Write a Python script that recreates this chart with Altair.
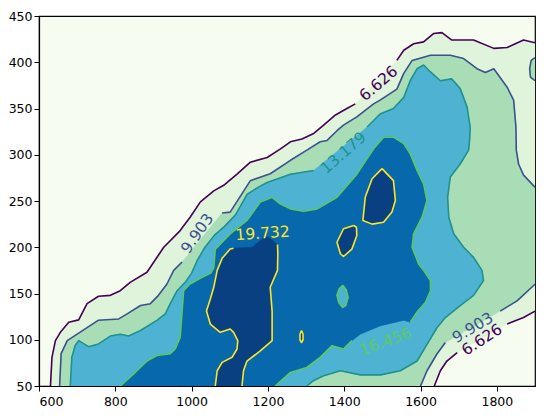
import altair as alt
import pandas as pd

# ---------------- data (data units) ----------------
levels = ["6.626", "9.903", "13.179", "16.456", "19.732"]
line_colors = ["#440154", "#3b528b", "#21918c", "#5ec962", "#fde725"]
band_colors = ["#f7fcf0", "#e0f3db", "#a8ddb5", "#4eb3d3", "#0868ac", "#084081"]

x_ticks = [600, 800, 1000, 1200, 1400, 1600, 1800]
y_ticks = [50, 100, 150, 200, 250, 300, 350, 400, 450]
x_domain = [600, 1900]
y_domain = [50, 450]

# 6.626 contour
c6_up_a_x = [630, 634, 643, 656, 678, 704, 726, 756, 787, 813, 839, 883, 927, 970, 997, 1023, 1058, 1084, 1119, 1154, 1198, 1232, 1259, 1289, 1320, 1346, 1377, 1407, 1429]
c6_up_a_y = [50, 81, 99, 108, 119, 121.5, 139, 147, 148, 153, 162, 173, 200, 218, 233, 249, 261, 267, 279, 292, 297, 306, 314, 317, 323, 332, 343, 350, 355]
c6_up_b_x = [1538, 1556, 1582, 1608, 1634, 1656, 1682, 1739, 1792, 1827, 1870, 1900]
c6_up_b_y = [402, 413, 420, 422, 431, 432, 424, 424, 415, 416, 424, 421]
c6_lo_a_x = [1636, 1652, 1669, 1696]
c6_lo_a_y = [50, 66.5, 77, 86]
c6_lo_b_x = [1827, 1870, 1900]
c6_lo_b_y = [117, 124, 131]

# 9.903 contour
c9_up_a_x = [654, 658, 674, 707, 733, 755, 809, 831, 866, 892, 913, 935, 953, 975]
c9_up_a_y = [50, 85, 99, 108, 115, 121, 122.5, 128, 137, 139, 148, 160, 175, 184]
c9_up_b_x = [1080, 1101, 1154, 1206, 1259, 1302, 1337, 1355, 1381, 1398, 1433, 1477, 1494, 1538, 1556, 1578, 1626, 1678, 1713, 1748, 1770, 1792, 1827, 1844, 1850, 1851, 1857, 1870, 1900]
c9_up_b_y = [237, 238, 272, 279.5, 294, 305, 314, 315.5, 326, 332, 341, 355, 359, 371, 388, 402, 407.5, 407.5, 404, 393, 389, 393, 373, 359, 330, 305, 290, 278, 265]
c9_lo_a_x = [1600, 1617, 1643, 1665]
c9_lo_a_y = [50, 66.5, 84.6, 97]
c9_lo_b_x = [1809, 1853, 1900]
c9_lo_b_y = [131, 142, 160]
c9_sm_x = [1900, 1890, 1886, 1888, 1900]
c9_sm_y = [405, 402, 393, 384, 380]

# 13.179 contour
c13_a_x = [682, 686, 695, 704, 730, 756, 787, 813, 835, 866, 909, 931, 944, 962, 985, 1000, 1015, 1035, 1060, 1085, 1115, 1145, 1175, 1198, 1259, 1320]
c13_a_y = [50, 81, 94, 99, 92.5, 95.5, 104, 106, 104, 110, 121, 128, 139, 153, 163, 172, 186, 200, 213, 222, 235, 257, 265, 270, 279, 283]
c13_b_x = [1460, 1494, 1529, 1556, 1573, 1591, 1608, 1626, 1652, 1682, 1704, 1722, 1730, 1729, 1726, 1704, 1678, 1671, 1674, 1687, 1713, 1739, 1761, 1765, 1739, 1704, 1665, 1643, 1617, 1591, 1547, 1495, 1442, 1390, 1346, 1320, 1302]
c13_b_y = [330, 344, 350, 362, 380, 393, 397, 389.5, 380, 382, 371.5, 351.5, 330, 318, 305, 290, 276, 254, 232.5, 214.5, 200, 189, 175, 164, 148, 137, 124, 113, 95, 77, 66.5, 62, 62, 66.5, 61, 56, 50]

# 16.456 contour
c16_a_x = [813, 848, 883, 909, 944, 957, 970, 975, 979, 995, 1020, 1050, 1058, 1062, 1101, 1145, 1180, 1211, 1232, 1259, 1294, 1329, 1381, 1433, 1477, 1503, 1529, 1556, 1573, 1591, 1608, 1617, 1604, 1582, 1578, 1595, 1608, 1626, 1626, 1613, 1591, 1573]
c16_a_y = [50, 63, 77, 83, 85, 90, 102.6, 131, 153, 160, 166, 172, 178, 198, 214.5, 229, 249, 254, 247, 241.5, 239, 241.5, 254, 279, 306.5, 319, 319, 312, 301, 283, 268.6, 250.5, 232.5, 214.5, 200, 182, 175, 164, 153, 140.5, 130, 119]
c16_gap_x = [1556, 1494, 1442]
c16_gap_y = [121, 115, 106]
c16_b_x = [1420, 1398, 1368, 1337, 1302, 1259, 1219]
c16_b_y = [99, 90, 93.6, 81, 70, 64.7, 50]
c16_hole_x = [1396, 1405, 1410, 1404, 1396, 1386, 1381, 1387, 1396]
c16_hole_y = [159, 154, 146, 137, 135, 140, 148, 155, 159]

# 19.732 contour
c19_l_x = [1062, 1067, 1080, 1106, 1119, 1121, 1110, 1101, 1075, 1049, 1039, 1049, 1058, 1067, 1080, 1101, 1110]
c19_l_y = [50, 66.5, 75.5, 81, 90, 99, 108, 111.6, 108, 117, 131, 144, 156.7, 175, 188, 198, 199]
c19_top_x = [1159, 1188, 1201]
c19_top_y = [200, 210, 211]
c19_r_x = [1225, 1226, 1225, 1206, 1211, 1211, 1180, 1145, 1136, 1132]
c19_r_y = [203, 193, 175, 156.7, 131, 99, 88, 77, 66.5, 50]
c19_b_x = [1425, 1398, 1381, 1390, 1398, 1420, 1433, 1432, 1425]
c19_b_y = [223.5, 220, 205.4, 193, 190, 198, 212.6, 221.6, 223.5]
c19_c_x = [1499, 1529, 1534, 1525, 1503, 1473, 1449, 1455, 1473, 1499]
c19_c_y = [285, 272, 250.5, 238, 227, 225, 229, 254, 274, 285]
c19_d_x = [1288, 1292, 1292, 1288, 1284, 1284, 1288]
c19_d_y = [110, 106, 100, 97, 100, 106, 110]

# contour labels: text, x, y, rotation (deg, counter-clockwise), level index
lab_text = ["6.626", "9.903", "13.179", "19.732", "16.456", "9.903", "6.626"]
lab_x = [1490, 1015, 1398, 1186, 1508, 1737, 1761]
lab_y = [377, 215, 302, 215, 98, 113, 100]
lab_rot = [41, 55, 41, 4, 20, 31, 33]
lab_lvl = [0, 1, 2, 4, 3, 1, 0]

# ---------------- chart ----------------
xscale = alt.Scale(domain=x_domain, nice=False, zero=False)
yscale = alt.Scale(domain=y_domain, nice=False, zero=False)
xaxis = alt.Axis(values=x_ticks, title=None, grid=False, format="d", labelPadding=4)
yaxis = alt.Axis(values=y_ticks, title=None, grid=False, format="d", labelPadding=2)


def seg(xs, ys):
    return list(zip(xs, ys))


def frame(points):
    return pd.DataFrame({"x": [p[0] for p in points],
                         "y": [p[1] for p in points],
                         "i": list(range(len(points)))})


def enc(chart):
    return chart.encode(
        x=alt.X("x:Q", scale=xscale, axis=xaxis),
        y=alt.Y("y:Q", scale=yscale, axis=yaxis),
        order=alt.Order("i:Q"),
    )


def fill_layer(points, color):
    return enc(alt.Chart(frame(points)).mark_line(
        fill=color, stroke=color, strokeWidth=0.6, clip=True))


def line_layer(points, color):
    return enc(alt.Chart(frame(points)).mark_line(
        stroke=color, strokeWidth=1.6, clip=True, strokeJoin="round"))


poly6 = seg(c6_up_a_x, c6_up_a_y) + seg(c6_up_b_x, c6_up_b_y) + \
    seg(c6_lo_b_x, c6_lo_b_y)[::-1] + seg(c6_lo_a_x, c6_lo_a_y)[::-1]
poly9 = seg(c9_up_a_x, c9_up_a_y) + seg(c9_up_b_x, c9_up_b_y) + \
    seg(c9_lo_b_x, c9_lo_b_y)[::-1] + seg(c9_lo_a_x, c9_lo_a_y)[::-1]
poly9s = seg(c9_sm_x, c9_sm_y)
poly13 = seg(c13_a_x, c13_a_y) + seg(c13_b_x, c13_b_y)
poly16 = seg(c16_a_x, c16_a_y) + seg(c16_gap_x, c16_gap_y) + seg(c16_b_x, c16_b_y)
hole16 = seg(c16_hole_x, c16_hole_y)
poly19 = seg(c19_l_x, c19_l_y) + seg(c19_top_x, c19_top_y) + seg(c19_r_x, c19_r_y)

layers = [
    fill_layer(poly6, band_colors[1]),
    fill_layer(poly9, band_colors[2]),
    fill_layer(poly9s, band_colors[2]),
    fill_layer(poly13, band_colors[3]),
    fill_layer(poly16, band_colors[4]),
    fill_layer(hole16, band_colors[3]),
    fill_layer(poly19, band_colors[5]),
    fill_layer(seg(c19_b_x, c19_b_y), band_colors[5]),
    fill_layer(seg(c19_c_x, c19_c_y), band_colors[5]),
    fill_layer(seg(c19_d_x, c19_d_y), band_colors[5]),
]

line_sets = [
    (c6_up_a_x, c6_up_a_y, 0), (c6_up_b_x, c6_up_b_y, 0),
    (c6_lo_a_x, c6_lo_a_y, 0), (c6_lo_b_x, c6_lo_b_y, 0),
    (c9_up_a_x, c9_up_a_y, 1), (c9_up_b_x, c9_up_b_y, 1),
    (c9_lo_a_x, c9_lo_a_y, 1), (c9_lo_b_x, c9_lo_b_y, 1),
    (c9_sm_x, c9_sm_y, 1),
    (c13_a_x, c13_a_y, 2), (c13_b_x, c13_b_y, 2),
    (c16_a_x, c16_a_y, 3), (c16_b_x, c16_b_y, 3), (c16_hole_x, c16_hole_y, 3),
    (c19_l_x, c19_l_y, 4), (c19_r_x, c19_r_y, 4),
    (c19_b_x, c19_b_y, 4), (c19_c_x, c19_c_y, 4), (c19_d_x, c19_d_y, 4),
]
for xs, ys, k in line_sets:
    layers.append(line_layer(seg(xs, ys), line_colors[k]))

for t, lx, ly, r, k in zip(lab_text, lab_x, lab_y, lab_rot, lab_lvl):
    df = pd.DataFrame({"x": [lx], "y": [ly], "t": [t]})
    layers.append(alt.Chart(df).mark_text(
        angle=(360 - r) % 360, color=line_colors[k], fontSize=15.5,
        font="DejaVu Sans", align="center", baseline="middle").encode(
        x=alt.X("x:Q", scale=xscale, axis=xaxis),
        y=alt.Y("y:Q", scale=yscale, axis=yaxis),
        text="t:N"))

chart = alt.layer(*layers).properties(
    width=496, height=370,
    autosize=alt.AutoSizeParams(type="none"),
    padding={"left": 31, "top": 8, "right": 10, "bottom": 30},
    background="white",
).configure_view(
    fill=band_colors[0], stroke="black", strokeWidth=1.2,
).configure_axis(
    domain=True, domainColor="black", domainWidth=1.2,
    ticks=True, tickColor="black", tickSize=5, tickWidth=1,
    labelFont="DejaVu Sans", labelFontSize=12.5, labelColor="black",
)

chart.save("out.html", embed_options={"renderer": "svg", "actions": False})
